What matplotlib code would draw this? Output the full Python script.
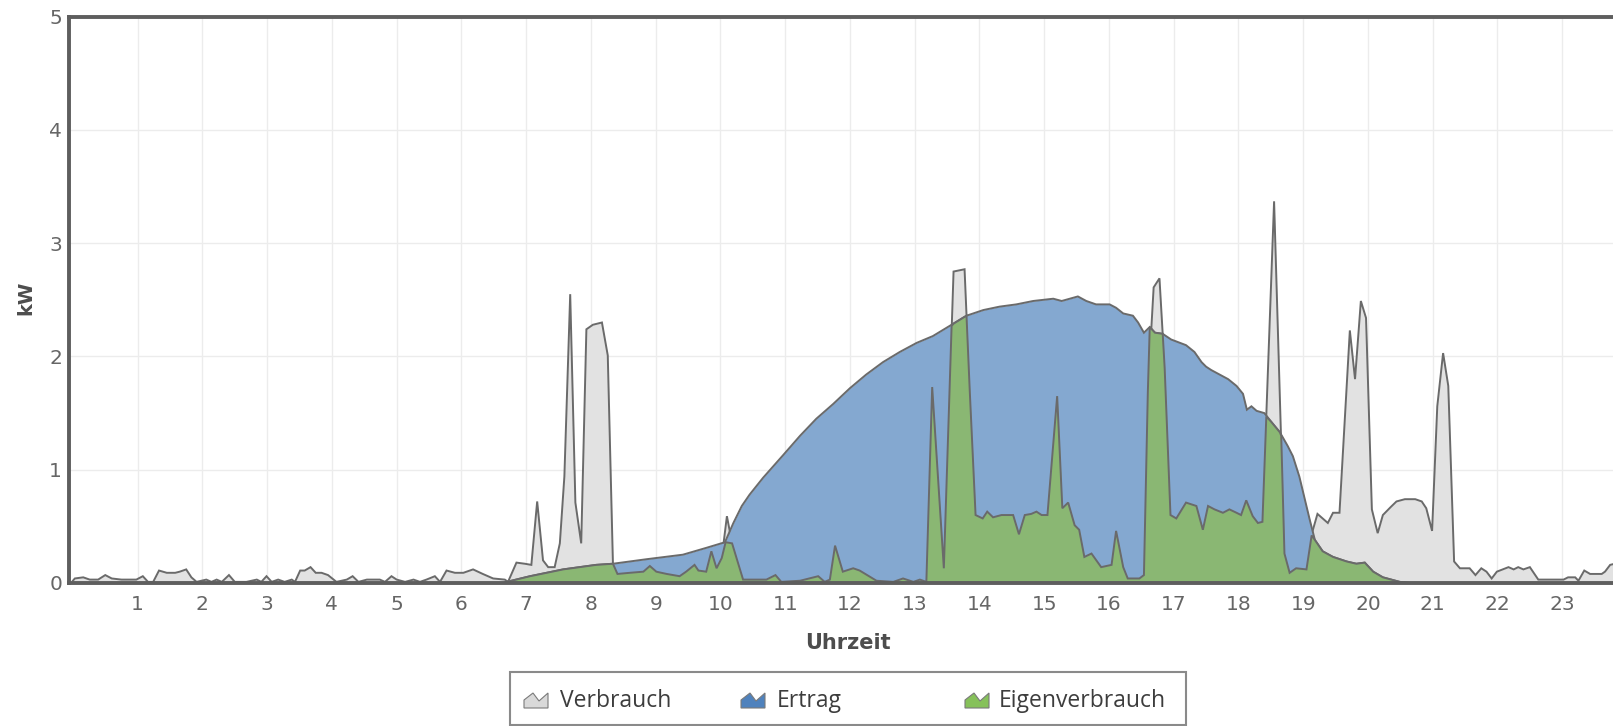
import matplotlib
matplotlib.use("Agg")
import matplotlib.pyplot as plt
from matplotlib.patches import Rectangle, Polygon

# Verbrauch (kW) - Stunde / Wert
verbrauch_t = [0.00, 0.03, 0.16, 0.26, 0.39, 0.50, 0.60, 0.75, 0.98, 1.08, 1.16, 1.24, 1.33, 1.45,
               1.58, 1.65, 1.75, 1.83, 1.91, 2.06, 2.14, 2.22, 2.30, 2.41, 2.50, 2.68, 2.84, 2.91,
               2.99, 3.07, 3.17, 3.27, 3.38, 3.43, 3.51, 3.58, 3.67, 3.75, 3.84, 3.94, 4.07, 4.23,
               4.32, 4.41, 4.54, 4.74, 4.82, 4.92, 5.00, 5.13, 5.26, 5.36, 5.46, 5.59, 5.67, 5.77,
               5.90, 6.03, 6.18, 6.33, 6.49, 6.67, 6.72, 6.85, 6.98, 7.08, 7.17, 7.26, 7.34, 7.44,
               7.52, 7.59, 7.68, 7.76, 7.85, 7.93, 8.03, 8.17, 8.26, 8.34, 8.41, 8.60, 8.81, 8.91,
               9.01, 9.17, 9.37, 9.47, 9.60, 9.66, 9.78, 9.86, 9.94, 10.02, 10.10, 10.18, 10.27,
               10.35, 10.71, 10.85, 10.94, 11.23, 11.51, 11.61, 11.69, 11.77, 11.89, 12.05, 12.15,
               12.41, 12.67, 12.82, 12.98, 13.08, 13.18, 13.27, 13.45, 13.60, 13.77, 13.85, 13.94,
               14.05, 14.12, 14.21, 14.34, 14.52, 14.61, 14.70, 14.80, 14.88, 14.96, 15.05, 15.20,
               15.28, 15.37, 15.47, 15.54, 15.62, 15.73, 15.88, 16.04, 16.11, 16.22, 16.29, 16.47,
               16.54, 16.62, 16.69, 16.78, 16.86, 16.95, 17.04, 17.19, 17.35, 17.45, 17.53, 17.63,
               17.76, 17.86, 17.97, 18.04, 18.12, 18.22, 18.30, 18.37, 18.46, 18.55, 18.63, 18.71,
               18.79, 18.89, 19.05, 19.14, 19.22, 19.38, 19.46, 19.56, 19.72, 19.80, 19.89, 19.97,
               20.06, 20.15, 20.23, 20.35, 20.44, 20.57, 20.65, 20.73, 20.83, 20.90, 20.99, 21.07,
               21.16, 21.24, 21.33, 21.42, 21.57, 21.66, 21.75, 21.83, 21.91, 21.99, 22.17, 22.25,
               22.32, 22.40, 22.50, 22.63, 22.78, 23.02, 23.09, 23.20, 23.25, 23.34, 23.43, 23.61,
               23.66, 23.74, 23.81, 23.95]
verbrauch_kw = [0.02, 0.04, 0.05, 0.03, 0.03, 0.07, 0.04, 0.03, 0.03, 0.06, 0.01, 0.01, 0.11, 0.09,
                0.09, 0.10, 0.12, 0.05, 0.01, 0.03, 0.01, 0.03, 0.01, 0.07, 0.01, 0.01, 0.03, 0.01,
                0.06, 0.01, 0.03, 0.01, 0.03, 0.01, 0.11, 0.11, 0.14, 0.09, 0.09, 0.07, 0.01, 0.03,
                0.06, 0.01, 0.03, 0.03, 0.01, 0.06, 0.03, 0.01, 0.03, 0.01, 0.03, 0.06, 0.01, 0.11,
                0.09, 0.09, 0.12, 0.08, 0.04, 0.03, 0.01, 0.18, 0.17, 0.16, 0.72, 0.20, 0.14, 0.14,
                0.35, 0.94, 2.55, 0.71, 0.35, 2.24, 2.28, 2.30, 2.01, 0.17, 0.08, 0.09, 0.10, 0.15,
                0.10, 0.08, 0.06, 0.10, 0.16, 0.11, 0.10, 0.28, 0.13, 0.22, 0.59, 0.35, 0.18,
                0.03, 0.03, 0.07, 0.01, 0.02, 0.06, 0.01, 0.03, 0.33, 0.10, 0.13, 0.11,
                0.02, 0.01, 0.04, 0.01, 0.03, 0.01, 1.73, 0.13, 2.75, 2.77, 1.70, 0.60,
                0.57, 0.63, 0.58, 0.60, 0.60, 0.43, 0.60, 0.61, 0.63, 0.60, 0.60, 1.65,
                0.66, 0.71, 0.51, 0.47, 0.23, 0.26, 0.14, 0.16, 0.46, 0.14, 0.04, 0.04,
                0.07, 1.90, 2.61, 2.69, 1.90, 0.60, 0.57, 0.71, 0.68, 0.47, 0.68, 0.65,
                0.62, 0.65, 0.62, 0.60, 0.73, 0.59, 0.53, 0.54, 1.95, 3.37, 1.80, 0.26,
                0.09, 0.13, 0.12, 0.45, 0.61, 0.53, 0.62, 0.62, 2.23, 1.80, 2.49, 2.34,
                0.65, 0.44, 0.60, 0.67, 0.72, 0.74, 0.74, 0.74, 0.72, 0.66, 0.46, 1.56,
                2.03, 1.74, 0.19, 0.13, 0.13, 0.07, 0.13, 0.10, 0.04, 0.10, 0.14, 0.12,
                0.14, 0.12, 0.14, 0.03, 0.03, 0.03, 0.05, 0.05, 0.02, 0.11, 0.08, 0.08,
                0.10, 0.16, 0.17, 0.17]

# Ertrag (kW)
ertrag_t = [6.65, 6.70, 7.06, 7.57, 8.08, 8.34, 8.86, 9.42, 9.78, 10.07, 10.20, 10.33, 10.45,
            10.66, 10.97, 11.23, 11.48, 11.74, 12.00, 12.25, 12.51, 12.77, 13.03, 13.28, 13.54,
            13.80, 14.06, 14.31, 14.57, 14.83, 15.14, 15.27, 15.52, 15.65, 15.80, 16.01, 16.11,
            16.22, 16.37, 16.45, 16.54, 16.63, 16.71, 16.83, 16.96, 17.19, 17.32, 17.43, 17.50,
            17.58, 17.71, 17.84, 17.97, 18.07, 18.13, 18.20, 18.28, 18.40, 18.51, 18.64, 18.76,
            18.84, 18.94, 19.10, 19.18, 19.30, 19.46, 19.67, 19.82, 19.95, 20.08, 20.23, 20.49,
            20.65]
ertrag_kw = [0.00, 0.01, 0.06, 0.12, 0.16, 0.17, 0.21, 0.25, 0.31, 0.36, 0.53, 0.68, 0.78,
             0.93, 1.13, 1.30, 1.45, 1.58, 1.72, 1.84, 1.95, 2.04, 2.12, 2.18, 2.27,
             2.36, 2.41, 2.44, 2.46, 2.49, 2.51, 2.49, 2.53, 2.49, 2.46, 2.46, 2.43,
             2.38, 2.36, 2.30, 2.21, 2.26, 2.21, 2.20, 2.15, 2.10, 2.04, 1.95, 1.91,
             1.88, 1.84, 1.80, 1.74, 1.67, 1.53, 1.56, 1.52, 1.50, 1.42, 1.33, 1.21,
             1.12, 0.94, 0.56, 0.38, 0.28, 0.23, 0.19, 0.17, 0.18, 0.10, 0.05, 0.01,
             0.00]

# Eigenverbrauch (kW)
eigen_t = [6.65, 6.70, 7.06, 7.57, 8.08, 8.34, 8.41, 8.60, 8.81, 8.91, 9.01, 9.17, 9.37, 9.47,
           9.60, 9.66, 9.78, 9.86, 9.94, 10.02, 10.08, 10.18, 10.27, 10.35, 10.71, 10.85, 10.94,
           11.23, 11.51, 11.61, 11.69, 11.77, 11.89, 12.05, 12.15, 12.41, 12.67, 12.82, 12.98,
           13.08, 13.18, 13.27, 13.45, 13.57, 13.60, 13.77, 13.80, 13.85, 13.94, 14.05, 14.12,
           14.21, 14.34, 14.52, 14.61, 14.70, 14.80, 14.88, 14.96, 15.05, 15.20, 15.28, 15.37,
           15.47, 15.54, 15.62, 15.73, 15.88, 16.04, 16.11, 16.22, 16.29, 16.47, 16.54, 16.60,
           16.63, 16.71, 16.83, 16.86, 16.95, 17.04, 17.19, 17.35, 17.45, 17.53, 17.63, 17.76,
           17.86, 17.97, 18.04, 18.12, 18.22, 18.30, 18.37, 18.43, 18.51, 18.64, 18.66, 18.71,
           18.79, 18.89, 19.05, 19.13, 19.18, 19.30, 19.46, 19.67, 19.82, 19.95, 20.08, 20.23,
           20.49, 20.65]
eigen_kw = [0.00, 0.01, 0.06, 0.12, 0.16, 0.17, 0.08, 0.09, 0.10, 0.15, 0.10, 0.08, 0.06, 0.10,
            0.16, 0.11, 0.10, 0.28, 0.13, 0.22, 0.36, 0.35, 0.18, 0.03, 0.03, 0.07, 0.01,
            0.02, 0.06, 0.01, 0.03, 0.33, 0.10, 0.13, 0.11, 0.02, 0.01, 0.04, 0.01,
            0.03, 0.01, 1.73, 0.13, 2.27, 2.29, 2.35, 2.36, 1.70, 0.60, 0.57, 0.63,
            0.58, 0.60, 0.60, 0.43, 0.60, 0.61, 0.63, 0.60, 0.60, 1.65, 0.66, 0.71,
            0.51, 0.47, 0.23, 0.26, 0.14, 0.16, 0.46, 0.14, 0.04, 0.04, 0.07, 1.68,
            2.26, 2.21, 2.20, 1.90, 0.60, 0.57, 0.71, 0.68, 0.47, 0.68, 0.65, 0.62,
            0.65, 0.62, 0.60, 0.73, 0.59, 0.53, 0.54, 1.47, 1.42, 1.33, 1.30, 0.26,
            0.09, 0.13, 0.12, 0.42, 0.38, 0.28, 0.23, 0.19, 0.17, 0.18, 0.10, 0.05,
            0.01, 0.00]

series_names = ["Verbrauch", "Ertrag", "Eigenverbrauch"]
fill_colors = ["#e2e2e2", "#84a8d0", "#8ab773"]
icon_colors = ["#d9d9d9", "#4f82bd", "#86c15a"]
hour_ticks = list(range(1, 24))
kw_ticks = [0, 1, 2, 3, 4, 5]

W, H = 1613, 726
fig = plt.figure(figsize=(W / 100, H / 100), dpi=100)
ax = fig.add_axes([69 / W, 1 - 583 / H, (W - 69) / W, (583 - 16.7) / H])

line_col = "#6a6a6a"
data = [(verbrauch_t, verbrauch_kw), (ertrag_t, ertrag_kw), (eigen_t, eigen_kw)]
for i, (t, v) in enumerate(data):
    ax.fill_between(t, v, 0, color=fill_colors[i], lw=0, zorder=2 + i)
    ax.plot(t, v, color=line_col, lw=1.4, zorder=2 + i, solid_joinstyle="miter")

ax.set_xlim(-0.06, (W - 73) / 64.75)
ax.set_ylim(0, 5)
ax.set_xticks(hour_ticks)
ax.set_xticklabels([str(h) for h in hour_ticks])
ax.set_yticks(kw_ticks)
ax.grid(True, color="#ececec", lw=1.0, zorder=0)
ax.set_axisbelow(True)
ax.tick_params(length=0, labelsize=14.5, labelcolor="#666666")
ax.tick_params(axis="x", pad=9)
ax.tick_params(axis="y", pad=5)

for side in ["left", "top", "bottom"]:
    ax.spines[side].set_color("#5e5e5e")
    ax.spines[side].set_linewidth(2.8)
    ax.spines[side].set_zorder(10)
ax.spines["right"].set_visible(False)

fig.text(26 / W, 1 - 298 / H, "kW", rotation=90, ha="center", va="center",
         fontsize=14, fontweight="bold", color="#4d4d4d")
fig.text(848 / W, 1 - 643 / H, "Uhrzeit", ha="center", va="center",
         fontsize=15, fontweight="bold", color="#4d4d4d")

# Legende
fig.patches.append(Rectangle((510 / W, 1 - 725 / H), (1186 - 510) / W, (725 - 672) / H,
                             transform=fig.transFigure, fill=False, ec="#8a8a8a", lw=1.5))
icon_x = [524, 741, 965]
text_x = [560, 777, 999]
yc = 701
for i, name in enumerate(series_names):
    x0 = icon_x[i]
    shape = [(x0, yc + 7), (x0, yc - 1), (x0 + 9, yc - 8), (x0 + 15, yc), (x0 + 24, yc - 8), (x0 + 24, yc + 7)]
    pts = [(x / W, 1 - y / H) for x, y in shape]
    fig.patches.append(Polygon(pts, closed=True, transform=fig.transFigure,
                               fc=icon_colors[i], ec="#7a7a7a", lw=0.8))
    fig.text(text_x[i] / W, 1 - yc / H, name, ha="left", va="center",
             fontsize=16.5, family="Open Sans", color="#3d3d3d")

fig.savefig("out.png", dpi=100)
